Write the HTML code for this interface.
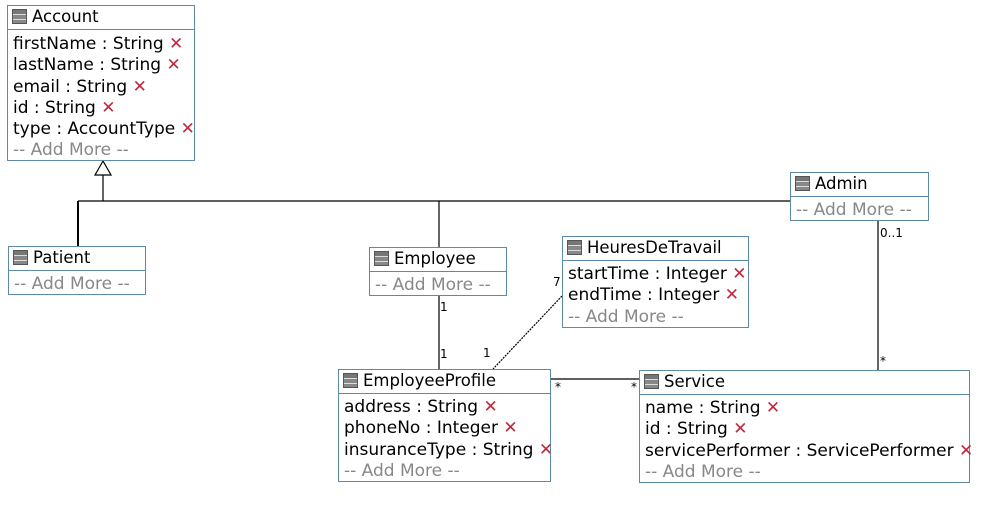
<!DOCTYPE html>
<html><head><meta charset="utf-8"><style>
body{margin:0;width:1008px;height:518px;background:#fff;position:relative;overflow:hidden;font-family:"DejaVu Sans","Liberation Sans",sans-serif;font-size:17px;color:#000}
.b{position:absolute;border:1px solid #5d8aa8;background:#fff;box-sizing:border-box}
.h{height:23px;border-bottom:1px solid #5d8aa8;line-height:22px;padding-left:4px;white-space:nowrap;font-size:16.5px}
.ic{display:inline-block;width:15px;height:15px;vertical-align:-2px;margin-right:5px;background:linear-gradient(#777 0 4px,#ddd 4px 5px,#888 5px 9px,#ddd 9px 10px,#888 10px);border:1px solid #555;box-sizing:border-box}
.a{padding-left:5px;line-height:21.3px;white-space:nowrap}
.x{color:#c0283c;font-weight:bold}
.m{color:#888}
.l{position:absolute;font-size:12px}
svg{position:absolute;left:0;top:0}
</style></head><body>
<svg width="1008" height="518">
<g stroke="#000" stroke-width="1.2" fill="none">
<line x1="78" y1="201" x2="790" y2="201"/>
<line x1="103" y1="175" x2="103" y2="201"/>
<line x1="78" y1="201" x2="78" y2="246" stroke-width="2"/>
<line x1="439" y1="201" x2="439" y2="247"/>
<line x1="439" y1="296" x2="439" y2="369"/>
<line x1="878" y1="220" x2="878" y2="370"/>
<line x1="550" y1="379" x2="639" y2="379"/>
<line x1="562" y1="296" x2="493" y2="369" stroke-dasharray="2,1"/>
<polygon points="103,161 95,175 111,175" fill="#fff"/>
</g></svg>
<div class="b" style="left:7px;top:5px;width:188px;height:156px"><div class="h"><span class="ic"></span>Account</div>
<div style="padding-top:4px"><div class="a">firstName : String <span class="x">✕</span></div><div class="a">lastName : String <span class="x">✕</span></div><div class="a">email : String <span class="x">✕</span></div><div class="a">id : String <span class="x">✕</span></div><div class="a">type : AccountType <span class="x">✕</span></div><div class="a m">-- Add More --</div></div></div>
<div class="b" style="left:8px;top:246px;width:138px;height:49px"><div class="h"><span class="ic"></span>Patient</div><div class="a m" style="line-height:26px">-- Add More --</div></div>
<div class="b" style="left:369px;top:247px;width:138px;height:49px"><div class="h"><span class="ic"></span>Employee</div><div class="a m" style="line-height:26px">-- Add More --</div></div>
<div class="b" style="left:790px;top:172px;width:139px;height:49px"><div class="h"><span class="ic"></span>Admin</div><div class="a m" style="line-height:26px">-- Add More --</div></div>
<div class="b" style="left:562px;top:236px;width:187px;height:92px"><div class="h"><span class="ic"></span>HeuresDeTravail</div>
<div style="padding-top:3px"><div class="a">startTime : Integer <span class="x">✕</span></div><div class="a">endTime : Integer <span class="x">✕</span></div><div class="a m">-- Add More --</div></div></div>
<div class="b" style="left:338px;top:369px;width:213px;height:113px"><div class="h"><span class="ic"></span>EmployeeProfile</div>
<div style="padding-top:3px"><div class="a">address : String <span class="x">✕</span></div><div class="a">phoneNo : Integer <span class="x">✕</span></div><div class="a">insuranceType : String <span class="x">✕</span></div><div class="a m">-- Add More --</div></div></div>
<div class="b" style="left:639px;top:370px;width:331px;height:113px"><div class="h"><span class="ic"></span>Service</div>
<div style="padding-top:3px"><div class="a">name : String <span class="x">✕</span></div><div class="a">id : String <span class="x">✕</span></div><div class="a">servicePerformer : ServicePerformer <span class="x">✕</span></div><div class="a m">-- Add More --</div></div></div>
<div class="l" style="left:440px;top:300px">1</div>
<div class="l" style="left:440px;top:347px">1</div>
<div class="l" style="left:483px;top:346px">1</div>
<div class="l" style="left:553px;top:275px">7</div>
<div class="l" style="left:880px;top:226px">0..1</div>
<div class="l" style="left:880px;top:354px">*</div>
<div class="l" style="left:555px;top:380px">*</div>
<div class="l" style="left:631px;top:380px">*</div>
</body></html>
